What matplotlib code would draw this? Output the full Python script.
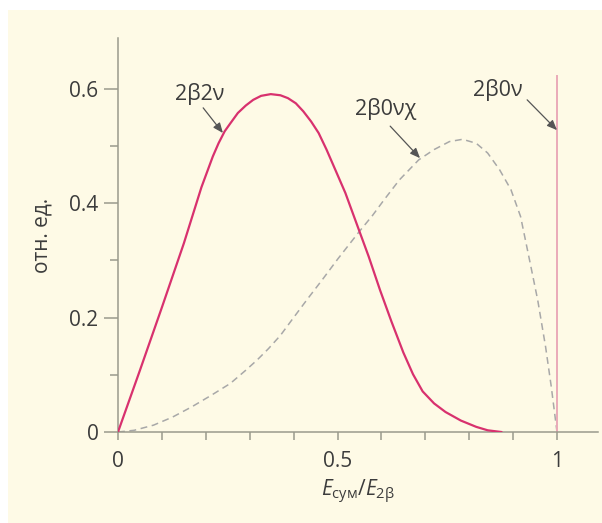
import numpy as np
import matplotlib
matplotlib.use("Agg")
import matplotlib.pyplot as plt
from matplotlib.patches import Rectangle

# --- data ---
x_2nu = [0.0, 0.05, 0.10, 0.15, 0.19, 0.216, 0.229, 0.243, 0.256, 0.273, 0.291, 0.308,
         0.326, 0.348, 0.370, 0.387, 0.405, 0.422, 0.440, 0.457, 0.475, 0.492, 0.518,
         0.549, 0.571, 0.597, 0.623, 0.650, 0.672, 0.694, 0.720, 0.746, 0.781, 0.816,
         0.842, 0.873]
y_2nu = [0.0, 0.108, 0.218, 0.330, 0.428, 0.482, 0.505, 0.526, 0.540, 0.558, 0.571, 0.581,
         0.588, 0.591, 0.589, 0.584, 0.575, 0.561, 0.543, 0.523, 0.494, 0.464, 0.418,
         0.353, 0.307, 0.248, 0.193, 0.139, 0.101, 0.071, 0.050, 0.035, 0.020, 0.009,
         0.003, 0.0]

x_0nuchi = [0.0, 0.037, 0.081, 0.124, 0.168, 0.212, 0.256, 0.291, 0.317, 0.343, 0.370,
            0.396, 0.431, 0.466, 0.501, 0.549, 0.580, 0.606, 0.641, 0.685, 0.720, 0.755,
            0.785, 0.816, 0.842, 0.869, 0.895, 0.917, 0.939, 0.956, 0.974, 0.987, 1.0]
y_0nuchi = [0.0, 0.003, 0.012, 0.026, 0.044, 0.064, 0.085, 0.108, 0.126, 0.146, 0.169,
            0.196, 0.232, 0.267, 0.303, 0.350, 0.379, 0.406, 0.441, 0.476, 0.494, 0.508,
            0.512, 0.505, 0.488, 0.459, 0.424, 0.377, 0.295, 0.231, 0.149, 0.079, 0.0]

x_0nu = [1.0, 1.0]
y_0nu = [0.0, 0.623]

x_major = [0, 0.5, 1]
x_major_labels = ["0", "0.5", "1"]
x_minor = [0.1, 0.2, 0.3, 0.4, 0.6, 0.7, 0.8, 0.9]
y_major = [0, 0.2, 0.4, 0.6]
y_major_labels = ["0", "0.2", "0.4", "0.6"]
y_minor = [0.1, 0.3, 0.5]

labels = ["2β2ν", "2β0νχ", "2β0ν"]
label_xy = [(0.185, 0.592), (0.61, 0.565), (0.866, 0.598)]
arrow_from = [(0.194, 0.567), (0.62, 0.535), (0.932, 0.581)]
arrow_to = [(0.239, 0.523), (0.688, 0.479), (1.0, 0.528)]

# --- style ---
plt.rcParams['font.family'] = ['Open Sans', 'DejaVu Sans']
plt.rcParams['mathtext.fontset'] = 'custom'
plt.rcParams['mathtext.rm'] = 'Open Sans'
plt.rcParams['mathtext.it'] = 'Open Sans:italic'

cream = "#fefae6"
axis_col = "#9a9a8c"
text_col = "#3c3c3c"
red = "#d8316e"
gray = "#a8a8a8"
pink = "#eaaab8"

fig = plt.figure(figsize=(6.02, 5.23), dpi=100)
fig.patch.set_facecolor("white")
fig.patches.append(Rectangle((8 / 602, 0), 1, 1 - 10 / 523, transform=fig.transFigure,
                             facecolor=cream, edgecolor="none", zorder=-10))

left = 118 / 602
bottom = 91 / 523
xmax = 1.093
ymax = 0.689
width = xmax * 439 / 602
height = ymax * 571.7 / 523
ax = fig.add_axes([left, bottom, width, height])
ax.set_facecolor("none")
ax.set_xlim(0, xmax)
ax.set_ylim(0, ymax)

for s in ["top", "right"]:
    ax.spines[s].set_visible(False)
for s in ["left", "bottom"]:
    ax.spines[s].set_color(axis_col)
    ax.spines[s].set_linewidth(1.1)

ax.plot(x_2nu, y_2nu, color=red, lw=1.6, solid_joinstyle="round", zorder=3)
ax.plot(x_0nuchi, y_0nuchi, color=gray, lw=1.1, ls=(0, (4.5, 3)), zorder=2)
ax.plot(x_0nu, y_0nu, color=pink, lw=1.4, zorder=2)

ax.set_xticks(x_major)
ax.set_xticklabels(x_major_labels)
ax.set_xticks(x_minor, minor=True)
ax.set_yticks(y_major)
ax.set_yticklabels(y_major_labels)
ax.set_yticks(y_minor, minor=True)

ax.tick_params(axis="x", which="both", direction="out", length=6, width=1.1,
               color=axis_col, labelsize=15, labelcolor=text_col, pad=8)
ax.tick_params(axis="y", which="major", direction="out", length=10, width=1.1,
               color=axis_col, labelsize=15, labelcolor=text_col, pad=4)
ax.tick_params(axis="y", which="minor", direction="out", length=6, width=1.1,
               color=axis_col)

ax.set_ylabel("отн. ед.", fontsize=15, color=text_col, labelpad=12)
ax.set_xlabel(r"$E_{\mathrm{сум}}/E_{2\mathrm{β}}$", fontsize=15, color=text_col, labelpad=4)

for lab, txy, a0, a1 in zip(labels, label_xy, arrow_from, arrow_to):
    ax.text(txy[0], txy[1], lab, fontsize=15.5, color=text_col, ha="center", va="center")
    ax.annotate("", xy=a1, xytext=a0,
                arrowprops=dict(arrowstyle="-|>,head_length=0.6,head_width=0.25",
                                color="#555555", lw=0.9, shrinkA=0, shrinkB=0))

fig.savefig("out.png", dpi=100, facecolor=fig.get_facecolor())
